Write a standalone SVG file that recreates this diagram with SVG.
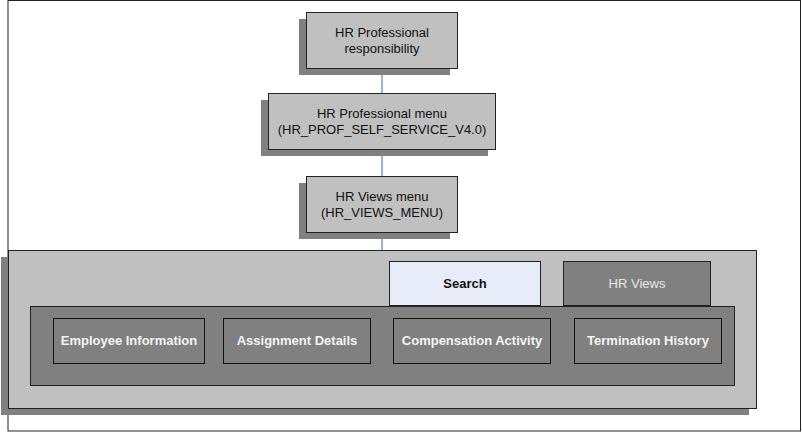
<svg xmlns="http://www.w3.org/2000/svg" width="802" height="432" viewBox="0 0 802 432">
<style>
.sh{fill:#808080}
.box{fill:#c0c0c0;stroke:#222;stroke-width:1}
.t{font-family:"Liberation Sans",Arial,sans-serif;font-size:13px;fill:#111;text-anchor:middle}
.b{fill:#808080;stroke:#111;stroke-width:1}
.bt{font-family:"Liberation Sans",Arial,sans-serif;font-size:13px;font-weight:bold;fill:#f4f4f4;text-anchor:middle}
</style>
<rect x="0" y="0" width="802" height="432" fill="#fff"/>
<rect x="8" y="0.5" width="792.5" height="430.5" fill="none" stroke="#222"/>
<g id="connectors" stroke="#6f9fd8" stroke-width="1.5">
<line x1="382" y1="68" x2="382" y2="93"/>
<line x1="382" y1="149" x2="382" y2="176"/>
<line x1="382" y1="232" x2="382" y2="250"/>
</g>
<g id="resp">
<rect class="sh" x="299" y="19" width="151" height="56"/>
<rect class="box" x="306.5" y="12.5" width="151" height="56"/>
<text class="t" x="382" y="37">HR Professional</text>
<text class="t" x="382" y="53">responsibility</text>
</g>
<g id="profmenu">
<rect class="sh" x="261" y="100" width="227" height="56"/>
<rect class="box" x="268.5" y="93.5" width="227" height="56"/>
<text class="t" x="382" y="118">HR Professional menu</text>
<text class="t" x="382" y="134">(HR_PROF_SELF_SERVICE_V4.0)</text>
</g>
<g id="viewsmenu">
<rect class="sh" x="299" y="183" width="151" height="56"/>
<rect class="box" x="306.5" y="176.5" width="151" height="56"/>
<text class="t" x="382" y="201">HR Views menu</text>
<text class="t" x="382" y="217">(HR_VIEWS_MENU)</text>
</g>
<g id="container">
<rect class="sh" x="1" y="257" width="748" height="158"/>
<rect class="box" x="8.5" y="250.5" width="748" height="158"/>
<rect x="30.5" y="306.5" width="704" height="79" fill="#808080" stroke="#222"/>
</g>
<g id="search">
<rect x="389.5" y="261.5" width="151" height="44" fill="#e8ecf8" stroke="#222"/>
<text class="t" x="465" y="288" font-weight="bold">Search</text>
</g>
<g id="hrviews">
<rect x="563.5" y="261.5" width="147" height="44" fill="#808080" stroke="#222"/>
<text class="t" x="637" y="288" fill="#e8e8e8" style="fill:#e8e8e8">HR Views</text>
</g>
<g id="emp"><rect class="b" x="53.5" y="318.5" width="151" height="45"/><text class="bt" x="129" y="345">Employee Information</text></g>
<g id="assign"><rect class="b" x="223.5" y="318.5" width="147" height="45"/><text class="bt" x="297" y="345">Assignment Details</text></g>
<g id="comp"><rect class="b" x="393.5" y="318.5" width="157" height="45"/><text class="bt" x="472" y="345">Compensation Activity</text></g>
<g id="term"><rect class="b" x="574.5" y="318.5" width="147" height="45"/><text class="bt" x="648" y="345">Termination History</text></g>
</svg>
